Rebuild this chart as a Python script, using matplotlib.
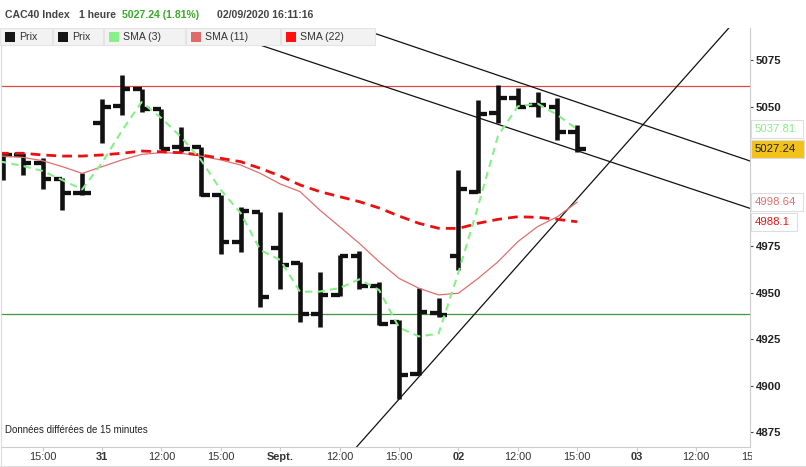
import matplotlib.pyplot as plt
from matplotlib.patches import Rectangle
from matplotlib.transforms import Bbox, TransformedBbox, blended_transform_factory

plt.rcParams['font.family'] = ['Liberation Sans', 'DejaVu Sans']

# hourly bars, index 0 = 31/08 09:00 (9 bars a day)
bar_idx = list(range(-5, 25))
opens = [5018.6, 5024.0, 5019.7, 5011.1, 5003.7, 5041.2, 5050.3, 5059.4, 5048.7, 5028.3,
         5028.3, 5002.5, 4977.4, 4993.5, 4974.2, 4966.1, 4938.4, 4948.8, 4969.7, 4953.6,
         4934.4, 4906.3, 4939.3, 4969.7, 5004.3, 5046.4, 5054.4, 5050.6, 5049.8, 5036.1]
highs = [5025.0, 5025.2, 5022.4, 5011.6, 5014.3, 5054.0, 5066.9, 5059.4, 5048.7, 5039.0,
         5028.3, 5002.5, 4996.2, 4993.5, 4993.5, 4966.7, 4961.3, 4970.3, 4972.6, 4955.9,
         4935.3, 4952.4, 4947.2, 5015.9, 5053.5, 5061.6, 5059.8, 5058.0, 5054.4, 5040.1]
lows = [5010.5, 5013.2, 5005.7, 4994.4, 5002.5, 5030.4, 5045.5, 5047.1, 5027.2, 5025.6,
        5001.9, 4970.8, 4972.0, 4942.5, 4951.8, 4934.4, 4931.7, 4948.2, 4951.8, 4932.6,
        4892.9, 4905.8, 4936.9, 4962.2, 5003.7, 5041.0, 5049.0, 5044.5, 5032.0, 5025.7]
closes = [5024.0, 5019.7, 5011.1, 5003.7, 5003.4, 5049.8, 5059.4, 5048.7, 5027.2, 5027.2,
          5002.5, 4977.4, 4993.9, 4947.5, 4964.9, 4938.4, 4948.8, 4969.7, 4953.6, 4933.2,
          4905.8, 4939.6, 4938.0, 5005.5, 5046.0, 5054.4, 5049.9, 5050.6, 5036.1, 5027.24]

sma_idx = list(range(-6, 25))
sma3 = [5021.3, 5020.2, 5018.1, 5015.4, 5010.5, 5005.5, 5019.7, 5036.9, 5052.4, 5043.8,
        5033.6, 5021.3, 5005.2, 4992.8, 4972.9, 4967.6, 4950.5, 4950.6, 4952.5, 4957.2,
        4951.4, 4931.3, 4926.5, 4928.0, 4960.7, 4996.6, 5034.2, 5050.1, 5051.6, 5045.5, 5037.81]
sma11 = [5023.7, 5023.4, 5022.7, 5020.9, 5017.7, 5014.1, 5017.7, 5021.3, 5024.3, 5025.2,
         5024.9, 5023.4, 5021.3, 5018.6, 5014.1, 5008.4, 5004.3, 4994.4, 4985.5, 4976.5,
         4966.6, 4957.7, 4952.4, 4948.8, 4949.7, 4957.7, 4966.6, 4977.4, 4985.5, 4990.8, 4998.64]
sma22 = [5024.9, 5024.9, 5024.9, 5024.0, 5023.4, 5023.4, 5024.0, 5024.9, 5026.1, 5025.7,
         5025.2, 5024.0, 5022.2, 5020.4, 5016.8, 5012.7, 5007.9, 5004.3, 5001.6, 4998.9,
         4995.5, 4991.2, 4987.3, 4984.6, 4984.5, 4987.3, 4989.4, 4990.8, 4990.5, 4989.4, 4988.1]

tick_pos = [-3, 0, 3, 6, 9, 12, 15, 18, 21, 24, 27, 30, 33]
tick_labels = ['15:00', '31', '12:00', '15:00', 'Sept.', '12:00', '15:00', '02',
               '12:00', '15:00', '03', '12:00', '15:00']
bold_labels = ['31', 'Sept.', '02', '03']
yticks = [4875, 4900, 4925, 4950, 4975, 5050, 5075]

resistance = 5061.2
support = 4938.6
chan_top = [(14, 5088.5), (32, 5023.4)]
chan_bot = [(8, 5083.0), (32, 4997.9)]
trend_up = [(13, 4868.8), (31, 5084.3)]

legend_labels = ['Prix', 'Prix', 'SMA (3)', 'SMA (11)', 'SMA (22)']
legend_colors = ['#151515', '#151515', '#88f088', '#e06a6a', '#ff1010']

W, H = 806, 467
fig = plt.figure(figsize=(W / 100, H / 100), dpi=100)
ax = fig.add_axes([1 / W, 20 / H, 749 / W, 419 / H])

# horizontal levels
ax.axhline(resistance, color='#e04848', lw=0.9, zorder=1)
ax.axhline(support, color='#3c9a3c', lw=0.9, zorder=1)

# trend lines
for line in (chan_top, chan_bot, trend_up):
    ax.axline(line[0], line[1], color='#111111', lw=0.9, zorder=2)

# OHLC bars
bw = 0.44
ax.vlines(bar_idx, lows, highs, color='#111111', lw=3.3, zorder=3)
ax.hlines(opens, [i - bw for i in bar_idx], bar_idx, color='#111111', lw=3.1, zorder=3)
ax.hlines(closes, bar_idx, [i + bw for i in bar_idx], color='#111111', lw=3.1, zorder=3)

# moving averages
ax.plot(sma_idx, sma11, color='#e07070', lw=0.9, zorder=4)
ax.plot(sma_idx, sma22, color='#e81010', lw=2.0, dashes=(3.5, 2.2), zorder=4)
ax.plot(sma_idx, sma3, color='#88ee88', lw=1.5, dashes=(3.5, 2.5), zorder=5)

ax.set_xlim(-5.1, 32.73)
ax.set_ylim(4867.1, 5092.2)

ax.spines['top'].set_visible(False)
ax.spines['left'].set_color('#dddddd')
ax.spines['right'].set_color('#cccccc')
ax.spines['bottom'].set_color('#cccccc')

ax.yaxis.tick_right()
ax.set_yticks(yticks)
ax.tick_params(axis='y', length=2.5, width=0.8, color='#444444', pad=1.5,
               labelsize=8.2, labelcolor='#222222')
for lab in ax.get_yticklabels():
    lab.set_fontweight('bold')

ax.set_xticks([p for p in tick_pos if p <= 32.7])
ax.tick_params(axis='x', length=3, color='#cccccc', labelbottom=False)

# x labels drawn by hand so the last one can be cut by the price panel
tx = blended_transform_factory(ax.transData, fig.transFigure)
clip = TransformedBbox(Bbox([[0, 0], [752 / W, 1]]), fig.transFigure)
for pos, lab in zip(tick_pos, tick_labels):
    t = fig.text(pos, 9.5 / H, lab, transform=tx, ha='center', va='center',
                 fontsize=7.9, color='#333333',
                 fontweight='bold' if lab in bold_labels else 'normal')
    t.set_clip_box(clip)
    t.set_clip_on(True)

# value boxes on the price scale
ty = blended_transform_factory(fig.transFigure, ax.transData)
boxes = [(sma3[-1], '#88ee88', 'white', 52),
         (closes[-1], '#222222', '#f2c21a', 53),
         (sma11[-1], '#e07070', 'white', 52),
         (sma22[-1], '#ee1111', 'white', 46)]
for val, tc, fc, bwid in boxes:
    fig.add_artist(Rectangle((751 / W, val - 4.7), bwid / W, 9.4, transform=ty,
                             facecolor=fc, edgecolor='#dddddd', lw=0.8, zorder=5))
    fig.text(755 / W, val, f'{val:g}', transform=ty, ha='left', va='center',
             fontsize=8.2, color=tc, zorder=6)

# header
hy = 1 - 15 / H
fig.text(5 / W, hy, 'CAC40 Index', fontsize=7.6, fontweight='bold', color='#444444', va='center')
fig.text(79 / W, hy, '1 heure', fontsize=7.6, fontweight='bold', color='#444444', va='center')
fig.text(122 / W, hy, '5027.24 (1.81%)', fontsize=7.6, fontweight='bold', color='#3aaa2a', va='center')
fig.text(217 / W, hy, '02/09/2020 16:11:16', fontsize=7.6, fontweight='bold', color='#444444', va='center')

# legend row
cells = [(0, 52), (53, 103), (104, 185), (186, 280), (281, 375)]
ly0, ly1 = 28, 45
for (x0, x1), lab, col in zip(cells, legend_labels, legend_colors):
    fig.add_artist(Rectangle((x0 / W, 1 - ly1 / H), (x1 - x0) / W, (ly1 - ly0) / H,
                             transform=fig.transFigure, facecolor='#f2f2f2',
                             edgecolor='#e4e4e4', lw=0.8, zorder=5))
    fig.add_artist(Rectangle(((x0 + 5) / W, 1 - 41.5 / H), 9.5 / W, 9.5 / H,
                             transform=fig.transFigure, facecolor=col, lw=0, zorder=6))
    fig.text((x0 + 19) / W, 1 - 37 / H, lab, fontsize=7.6, color='#333333',
             va='center', zorder=6)

fig.text(5 / W, 1 - 430 / H, 'Données différées de 15 minutes', fontsize=7,
         color='#222222', va='center')

# outer frame bits
fig.add_artist(plt.Line2D([0, 1], [1 / H, 1 / H], transform=fig.transFigure,
                          color='#dddddd', lw=0.8))
fig.add_artist(plt.Line2D([0.5 / W, 0.5 / W], [0, 1 - 45 / H], transform=fig.transFigure,
                          color='#dddddd', lw=0.8))

fig.savefig('out.png', dpi=100)
